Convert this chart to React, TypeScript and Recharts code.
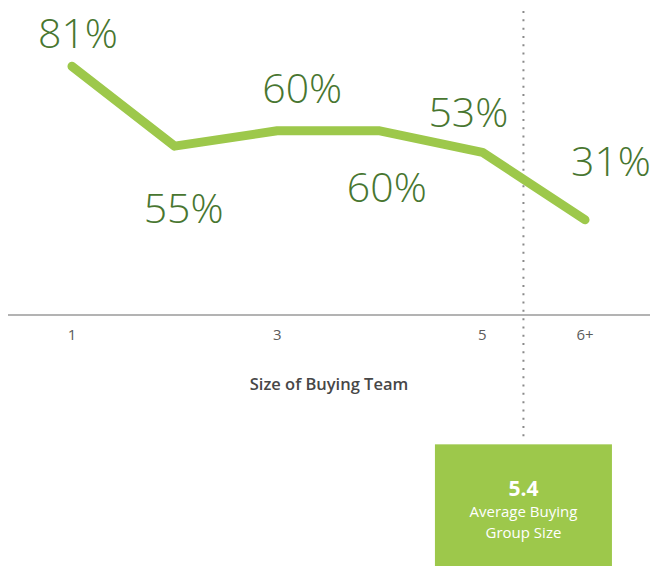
import React from 'react';
import { LineChart, Line, XAxis, YAxis, ReferenceLine, LabelList } from 'recharts';

// Team size on the x axis (6 stands for "6+")
const teamSizes = [1, 2, 3, 4, 5, 6];
const sizeLabels = ['1', '2', '3', '4', '5', '6+'];
// Share of deals per team size, in percent
const shares = [81, 55, 60, 60, 53, 31];
// Ticks that carry a label on the axis
const shownTicks = [1, 3, 5, 6];
// Average buying group size
const averageSize = 5.4;

const data = teamSizes.map((size, i) => ({ size, label: sizeLabels[i], share: shares[i] }));

const GREEN = '#9dc84b';
const DARK_GREEN = '#487630';
const FONT = '"Open Sans", "Noto Sans", sans-serif';

// Offsets of each value label from its point (px): horizontal nudge and baseline shift
const labelDx = [6, 9, 25, 7, -14, 26];
const labelDy = [-18, 77, -28, 71, -25, -44];

const ValueLabel = (props: any) => {
  const { x, y, value, index } = props;
  return (
    <text
      x={x + labelDx[index]}
      y={y + labelDy[index]}
      textAnchor="middle"
      fill={DARK_GREEN}
      fontFamily={FONT}
      fontWeight={300}
      fontSize={41}
    >
      {`${value}%`}
    </text>
  );
};

const SizeTick = (props: any) => {
  const { x, y, payload } = props;
  return (
    <text x={x} y={y + 10} textAnchor="middle" fill="#5c5c5c" fontFamily={FONT} fontSize={15}>
      {sizeLabels[teamSizes.indexOf(payload.value)]}
    </text>
  );
};

const AverageBox = (props: any) => {
  const { viewBox } = props;
  const cx = viewBox.x;
  const top = viewBox.y + viewBox.height + 5;
  const w = 177;
  return (
    <g>
      <rect x={cx - w / 2} y={top} width={w} height={566 - top} fill={GREEN} />
      <text x={cx} y={top + 52} textAnchor="middle" fill="#fff" fontFamily={FONT} fontWeight={700} fontSize={21}>
        {averageSize}
      </text>
      <text x={cx} y={top + 73} textAnchor="middle" fill="#fff" fontFamily={FONT} fontWeight={400} fontSize={15}>
        Average Buying
      </text>
      <text x={cx} y={top + 94} textAnchor="middle" fill="#fff" fontFamily={FONT} fontWeight={400} fontSize={15}>
        Group Size
      </text>
    </g>
  );
};

export default function App() {
  return (
    <div style={{ position: 'absolute', left: 0, top: 0, width: 652, height: 566, background: '#fff' }}>
      <LineChart width={652} height={566} data={data} margin={{ top: 8, right: 2, left: 8, bottom: 0 }}>
        <XAxis
          dataKey="size"
          type="number"
          domain={[1, 6]}
          ticks={shownTicks}
          padding={{ left: 64, right: 65 }}
          height={251}
          stroke="#9a9a9a"
          strokeWidth={1.5}
          tickLine={false}
          tickSize={0}
          tickMargin={15}
          tick={<SizeTick />}
          label={{
            value: 'Size of Buying Team',
            position: 'insideTop',
            offset: 63,
            fill: '#474747',
            fontSize: 16.5,
            fontWeight: 600,
            fontFamily: FONT,
          }}
        />
        <YAxis type="number" domain={[0, 100]} hide />
        <ReferenceLine
          segment={[
            { x: averageSize, y: 99 },
            { x: averageSize, y: -40.5 },
          ]}
          ifOverflow="visible"
          stroke="#8a8a8a"
          strokeWidth={2}
          strokeDasharray="2 6.3"
          label={<AverageBox />}
        />
        <Line
          type="linear"
          dataKey="share"
          stroke={GREEN}
          strokeWidth={9}
          strokeLinecap="round"
          strokeLinejoin="round"
          dot={false}
          activeDot={false}
          isAnimationActive={false}
        >
          <LabelList dataKey="share" content={<ValueLabel />} />
        </Line>
      </LineChart>
    </div>
  );
}
